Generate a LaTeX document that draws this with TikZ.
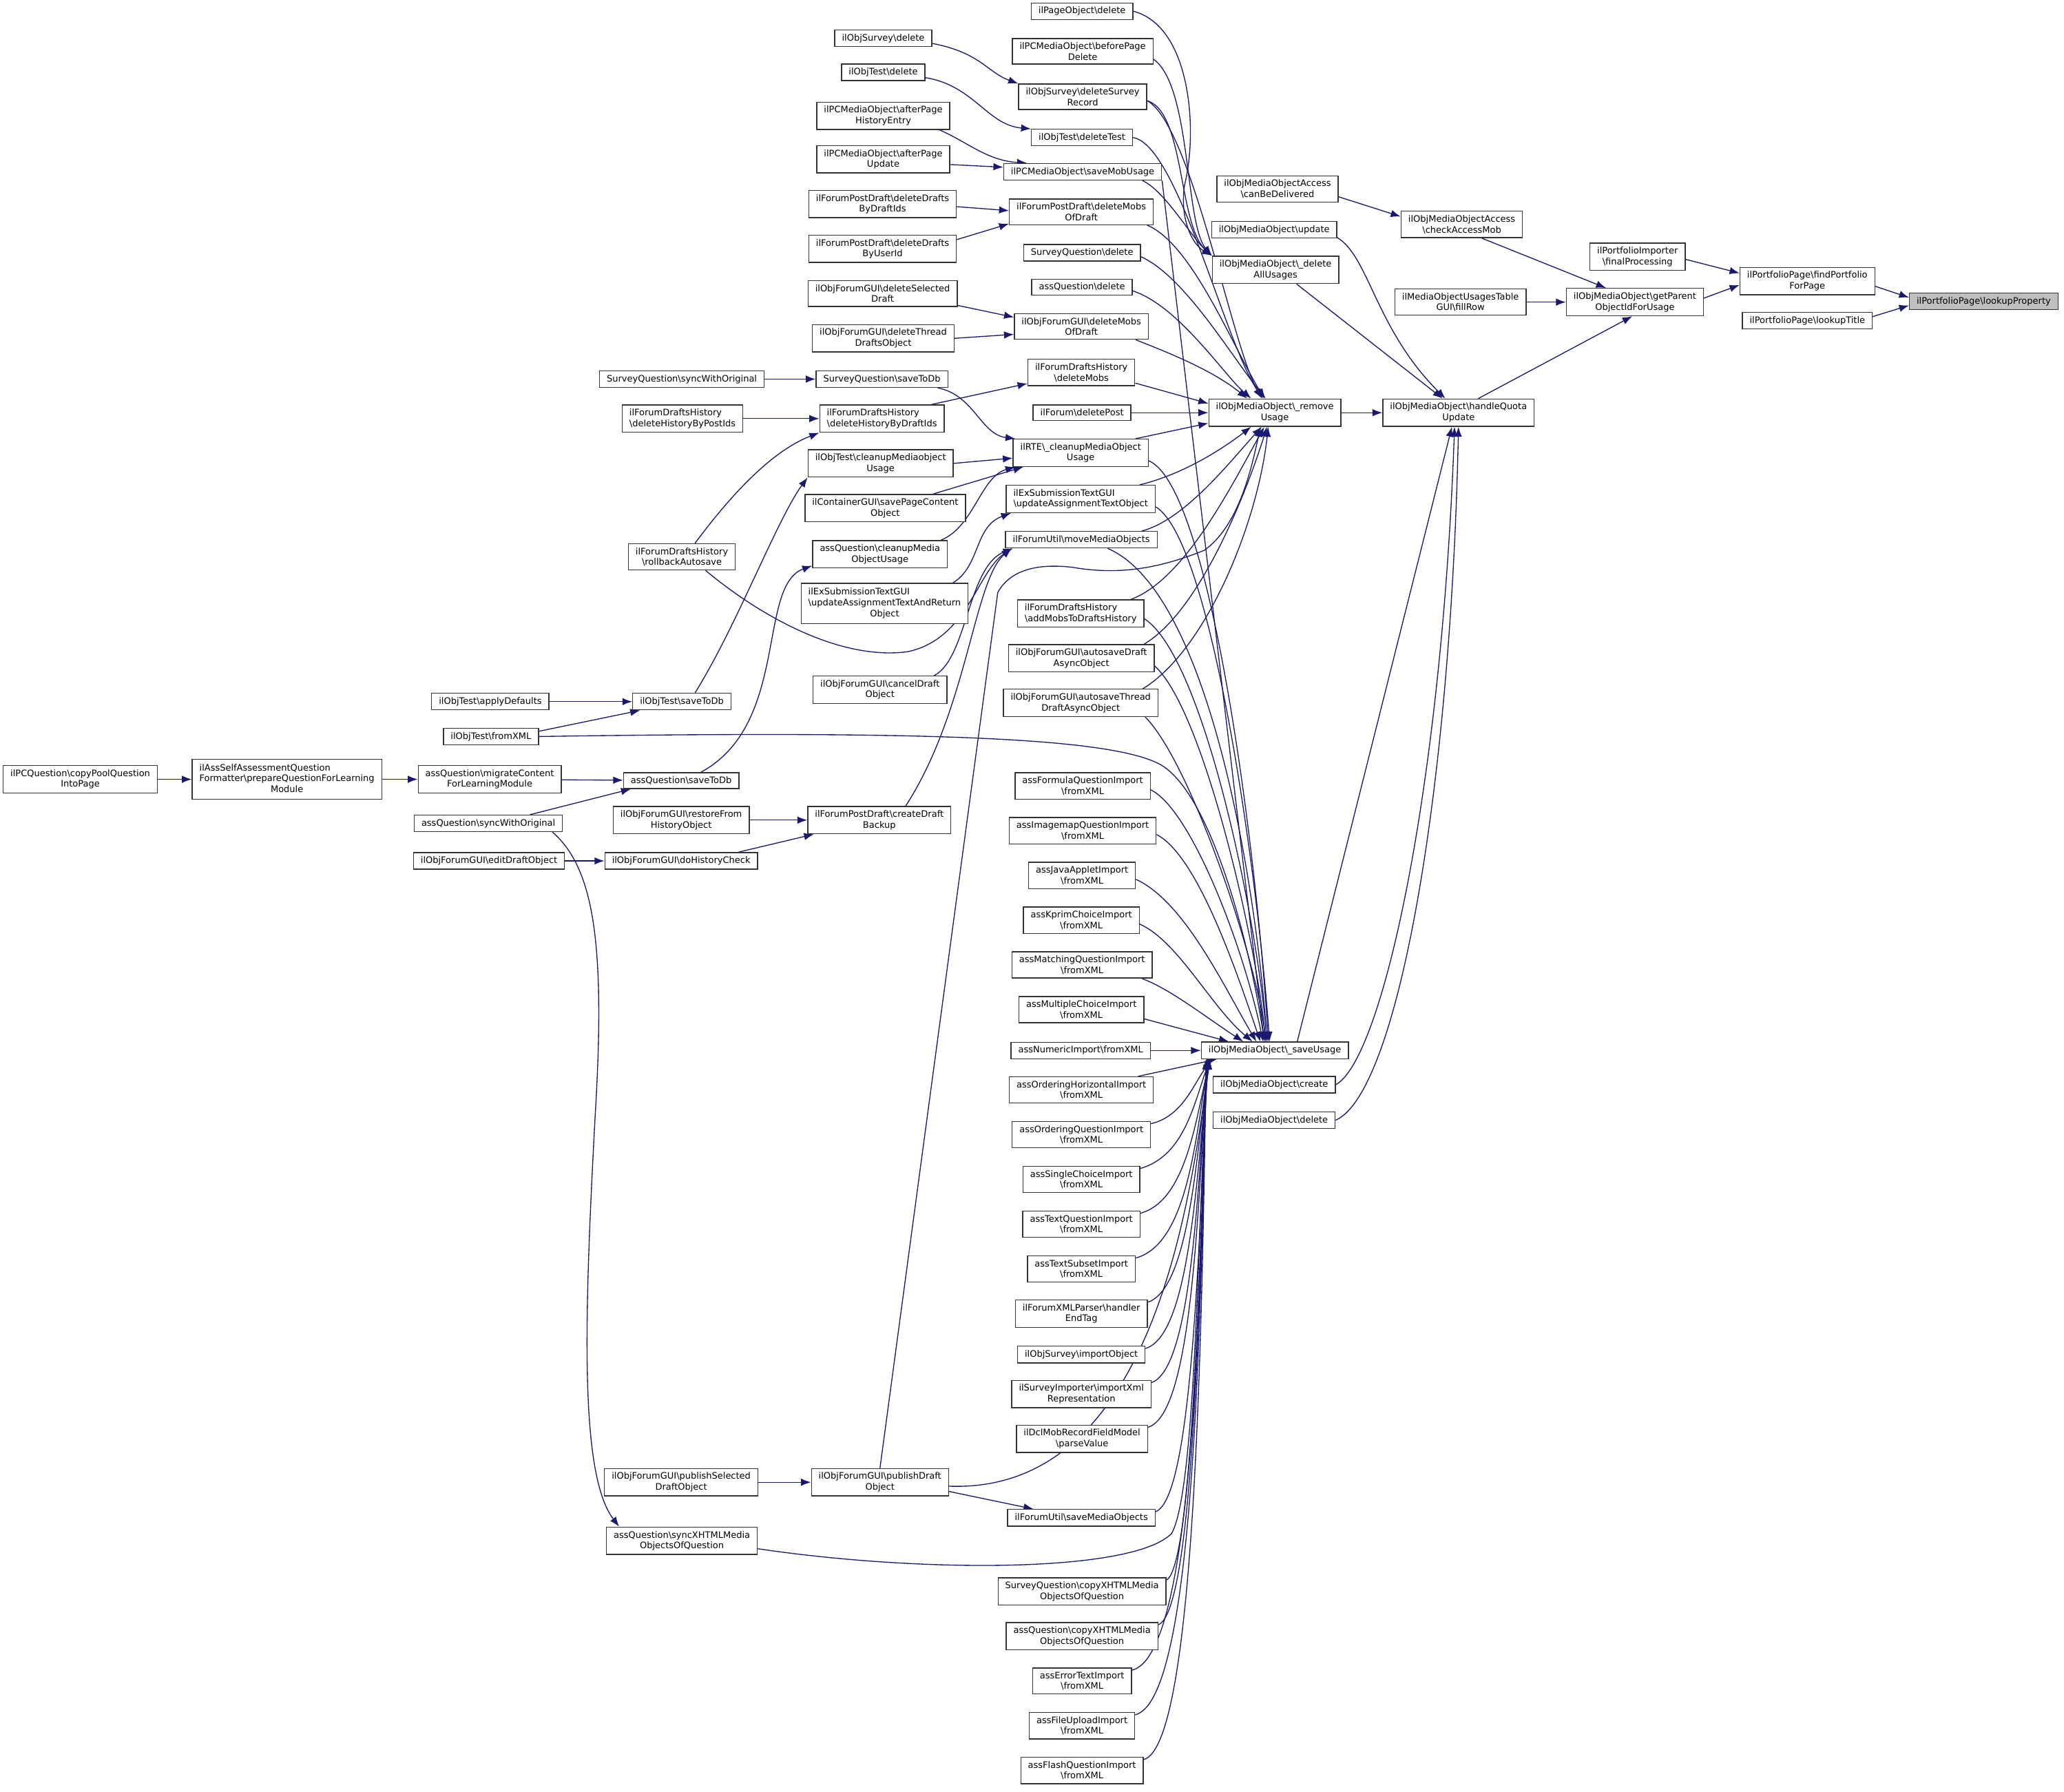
\documentclass[tikz,border=0pt]{standalone}
\usepackage{fontspec}
\setmainfont{DejaVu Sans}
\usetikzlibrary{arrows.meta,backgrounds}
\definecolor{edgeblue}{RGB}{25,25,112}
\definecolor{rootgrey}{RGB}{191,191,191}
\newcommand{\bsl}{\textbackslash}

\begin{document}
\begin{tikzpicture}[x=1pt, y=-1pt, >={Latex[length=7.5pt,width=5.6pt]},
  font=\fontsize{6.8}{8.2}\selectfont,
  box/.style={draw=black!80, line width=0.7pt, fill=white, inner xsep=5.5pt, inner ysep=3pt},
  fn/.style={box, align=center},
  fnl/.style={box, align=left},
  rootfn/.style={fn, fill=rootgrey},
  calls/.style={->, draw=edgeblue, line width=0.7pt}]

\useasboundingbox (0,0) rectangle (1568,1361);

% --- root and right part ---
\node[rootfn] (lookup) at (1507,229) {ilPortfolioPage\bsl lookupProperty};
\node[fn] (findpf) at (1373,213.5) {ilPortfolioPage\bsl findPortfolio\\ForPage};
\node[fn] (lookuptitle) at (1373,243.5) {ilPortfolioPage\bsl lookupTitle};
\node[fn] (finalproc) at (1244,195) {ilPortfolioImporter\\\bsl finalProcessing};
\node[fn] (getparent) at (1242,229.5) {ilObjMediaObject\bsl getParent\\ObjectIdForUsage};
\node[fn] (fillrow) at (1109.5,229.5) {ilMediaObjectUsagesTable\\GUI\bsl fillRow};
\node[fn] (checkmob) at (1110.5,170.5) {ilObjMediaObjectAccess\\\bsl checkAccessMob};
\node[fn] (candeliver) at (970.5,143.5) {ilObjMediaObjectAccess\\\bsl canBeDelivered};
\node[fn] (mobupdate) at (968,174.5) {ilObjMediaObject\bsl update};
\node[fn] (delall) at (969,205) {ilObjMediaObject\bsl\_delete\\AllUsages};
\node[fn] (quota) at (1108,313.5) {ilObjMediaObject\bsl handleQuota\\Update};
\node[fn] (remove) at (968.5,313.5) {ilObjMediaObject\bsl\_remove\\Usage};
\node[fn] (save) at (968.5,798) {ilObjMediaObject\bsl\_saveUsage};
\node[fn] (mobcreate) at (968,824) {ilObjMediaObject\bsl create};
\node[fn] (mobdelete) at (968,851) {ilObjMediaObject\bsl delete};

% --- middle column ---
\node[fn] (pgdelete) at (822,8.5) {ilPageObject\bsl delete};
\node[fn] (beforepg) at (822.5,39) {ilPCMediaObject\bsl beforePage\\Delete};
\node[fn] (surveyrec) at (822.5,73.5) {ilObjSurvey\bsl deleteSurvey\\Record};
\node[fn] (deletetest) at (822,104.5) {ilObjTest\bsl deleteTest};
\node[fn] (savemob) at (822.5,130.5) {ilPCMediaObject\bsl saveMobUsage};
\node[fn] (pddelmobs) at (821.5,161) {ilForumPostDraft\bsl deleteMobs\\OfDraft};
\node[fn] (sqdelete) at (822,192) {SurveyQuestion\bsl delete};
\node[fn] (aqdelete) at (822,218) {assQuestion\bsl delete};
\node[fn] (fgdelmobs) at (821.5,248) {ilObjForumGUI\bsl deleteMobs\\OfDraft};
\node[fn] (dhdelmobs) at (821.5,283) {ilForumDraftsHistory\\\bsl deleteMobs};
\node[fn] (deletepost) at (822,313.5) {ilForum\bsl deletePost};
\node[fn] (rtecleanup) at (821,344) {ilRTE\bsl\_cleanupMediaObject\\Usage};
\node[fnl] (exupdate) at (821,379) {ilExSubmissionTextGUI\\\bsl updateAssignmentTextObject};
\node[fn] (movemedia) at (821.5,410) {ilForumUtil\bsl moveMediaObjects};
\node[fnl] (addmobs) at (821,466) {ilForumDraftsHistory\\\bsl addMobsToDraftsHistory};
\node[fn] (autodraft) at (821.5,500) {ilObjForumGUI\bsl autosaveDraft\\AsyncObject};
\node[fn] (autothread) at (821,534) {ilObjForumGUI\bsl autosaveThread\\DraftAsyncObject};
\node[fn] (formula) at (822.5,597) {assFormulaQuestionImport\\\bsl fromXML};
\node[fn] (imagemap) at (822.5,631) {assImagemapQuestionImport\\\bsl fromXML};
\node[fn] (javaapplet) at (822,665) {assJavaAppletImport\\\bsl fromXML};
\node[fn] (kprim) at (821.5,699) {assKprimChoiceImport\\\bsl fromXML};
\node[fn] (matching) at (822,733) {assMatchingQuestionImport\\\bsl fromXML};
\node[fn] (multichoice) at (821.5,767) {assMultipleChoiceImport\\\bsl fromXML};
\node[fn] (numeric) at (821,798) {assNumericImport\bsl fromXML};
\node[fn] (orderhoriz) at (821.5,828) {assOrderingHorizontalImport\\\bsl fromXML};
\node[fn] (orderq) at (821.5,862) {assOrderingQuestionImport\\\bsl fromXML};
\node[fn] (singlechoice) at (821.5,896) {assSingleChoiceImport\\\bsl fromXML};
\node[fn] (textq) at (821.5,930) {assTextQuestionImport\\\bsl fromXML};
\node[fn] (textsubset) at (821.5,964) {assTextSubsetImport\\\bsl fromXML};
\node[fn] (handlerend) at (821.5,998) {ilForumXMLParser\bsl handler\\EndTag};
\node[fn] (importobj) at (821.5,1029) {ilObjSurvey\bsl importObject};
\node[fn] (importxml) at (821.5,1059) {ilSurveyImporter\bsl importXml\\Representation};
\node[fn] (parseval) at (822,1093) {ilDclMobRecordFieldModel\\\bsl parseValue};
\node[fn] (savemedia) at (821.5,1153) {ilForumUtil\bsl saveMediaObjects};
\node[fn] (sqcopy) at (822,1209) {SurveyQuestion\bsl copyXHTMLMedia\\ObjectsOfQuestion};
\node[fn] (aqcopy) at (822,1243) {assQuestion\bsl copyXHTMLMedia\\ObjectsOfQuestion};
\node[fn] (errortext) at (822,1277) {assErrorTextImport\\\bsl fromXML};
\node[fn] (fileupload) at (822,1311) {assFileUploadImport\\\bsl fromXML};
\node[fn] (flash) at (822,1345) {assFlashQuestionImport\\\bsl fromXML};

% --- second column ---
\node[fn] (svydelete) at (671,29) {ilObjSurvey\bsl delete};
\node[fn] (tstdelete) at (671,55) {ilObjTest\bsl delete};
\node[fn] (afterhist) at (671,88) {ilPCMediaObject\bsl afterPage\\HistoryEntry};
\node[fn] (afterupdate) at (671,121) {ilPCMediaObject\bsl afterPage\\Update};
\node[fn] (bydraftids) at (670.5,155) {ilForumPostDraft\bsl deleteDrafts\\ByDraftIds};
\node[fn] (byuserid) at (670.5,189) {ilForumPostDraft\bsl deleteDrafts\\ByUserId};
\node[fn] (delselected) at (670.5,223) {ilObjForumGUI\bsl deleteSelected\\Draft};
\node[fn] (delthread) at (671,257) {ilObjForumGUI\bsl deleteThread\\DraftsObject};
\node[fn] (sqsavetodb) at (670,288) {SurveyQuestion\bsl saveToDb};
\node[fnl] (histdraft) at (670,318) {ilForumDraftsHistory\\\bsl deleteHistoryByDraftIds};
\node[fn] (tstcleanup) at (669,352) {ilObjTest\bsl cleanupMediaobject\\Usage};
\node[fn] (savepage) at (672.5,386) {ilContainerGUI\bsl savePageContent\\Object};
\node[fn] (aqcleanup) at (668.5,421) {assQuestion\bsl cleanupMedia\\ObjectUsage};
\node[box] (exreturn) at (672,458.5) {\begin{tabular}{@{}l@{}}ilExSubmissionTextGUI\\\bsl updateAssignmentTextAndReturn\\\multicolumn{1}{@{}c@{}}{Object}\end{tabular}};
\node[fn] (canceldraft) at (668.5,524) {ilObjForumGUI\bsl cancelDraft\\Object};
\node[fn] (createbackup) at (668,623) {ilForumPostDraft\bsl createDraft\\Backup};
\node[fn] (publishdraft) at (668.5,1126) {ilObjForumGUI\bsl publishDraft\\Object};

% --- third column ---
\node[fn] (sqsync) at (518,288) {SurveyQuestion\bsl syncWithOriginal};
\node[fnl] (histpost) at (518.5,318) {ilForumDraftsHistory\\\bsl deleteHistoryByPostIds};
\node[fn] (rollback) at (518,423) {ilForumDraftsHistory\\\bsl rollbackAutosave};
\node[fn] (tstsavetodb) at (518,533) {ilObjTest\bsl saveToDb};
\node[fn] (aqsavetodb) at (517.5,593) {assQuestion\bsl saveToDb};
\node[fn] (restore) at (517.5,623) {ilObjForumGUI\bsl restoreFrom\\HistoryObject};
\node[fn] (dohistory) at (517.5,654) {ilObjForumGUI\bsl doHistoryCheck};
\node[fn] (pubselected) at (517.5,1126) {ilObjForumGUI\bsl publishSelected\\DraftObject};
\node[fn] (syncxhtml) at (518,1170.5) {assQuestion\bsl syncXHTMLMedia\\ObjectsOfQuestion};

% --- left part ---
\node[fn] (applydef) at (372.5,533) {ilObjTest\bsl applyDefaults};
\node[fn] (tstfromxml) at (373,559.5) {ilObjTest\bsl fromXML};
\node[fn] (migrate) at (372,592) {assQuestion\bsl migrateContent\\ForLearningModule};
\node[fn] (aqsync) at (371,625.5) {assQuestion\bsl syncWithOriginal};
\node[fn] (editdraft) at (371.5,654) {ilObjForumGUI\bsl editDraftObject};
\node[box] (prepare) at (218,592) {\begin{tabular}{@{}l@{}}ilAssSelfAssessmentQuestion\\Formatter\bsl prepareQuestionForLearning\\\multicolumn{1}{@{}c@{}}{Module}\end{tabular}};
\node[fn] (copypool) at (61,592) {ilPCQuestion\bsl copyPoolQuestion\\IntoPage};

\begin{scope}[on background layer]
% right part
\draw[calls] ([yshift=-4pt]findpf.east) -- ([yshift=3pt]lookup.west);
\draw[calls] ([yshift=3pt]lookuptitle.east) -- ([yshift=-3pt]lookup.west);
\draw[calls] ([yshift=-2pt]finalproc.east) -- ([yshift=6pt]findpf.west);
\draw[calls] ([yshift=3pt]getparent.east) -- ([yshift=-3pt]findpf.west);
\draw[calls] (fillrow) -- (getparent);
\draw[calls] ([xshift=15pt]checkmob.south) -- ([xshift=-22pt]getparent.north);
\draw[calls] ([xshift=15pt]quota.north) -- ([xshift=-2pt]getparent.south);
\draw[calls] ([yshift=-6pt]candeliver.east) -- ([yshift=6pt]checkmob.west);
\draw[calls] ([yshift=-6pt]mobupdate.east) .. controls (1040,195) and (1045,250) .. ([xshift=-10pt]quota.north);
\draw[calls] ([xshift=16pt]delall.south) -- ([xshift=-12pt]quota.north);
\draw[calls] (remove) -- (quota);
\draw[calls] ([xshift=17pt]save.north) -- ([xshift=-5pt]quota.south);
\draw[calls] (mobcreate.east) .. controls (1050,805) and (1095,600) .. ([xshift=-3pt]quota.south);
\draw[calls] (mobdelete.east) .. controls (1062,830) and (1102,600) .. (quota.south);

% into _deleteAllUsages
\draw[calls] (pgdelete.east) .. controls (905,20) and (910,100) .. (900,140) .. controls (896,165) and (905,185) .. (delall.north west);
\draw[calls] ([yshift=-6pt]beforepg.east) .. controls (905,65) and (900,170) .. (delall.north west);
\draw[calls] ([yshift=-3pt]surveyrec.east) .. controls (900,85) and (895,170) .. (delall.north west);
\draw[calls] ([xshift=-15pt]savemob.south east) .. controls (885,145) and (905,180) .. (delall.north west);

% into _removeUsage
\draw[calls] ([yshift=-3pt]surveyrec.east) .. controls (905,95) and (935,260) .. ([xshift=-10pt]remove.north);
\draw[calls] (deletetest.east) .. controls (895,110) and (930,260) .. ([xshift=-9pt]remove.north);
\draw[calls] ([xshift=-5pt]pddelmobs.south east) .. controls (905,185) and (935,260) .. ([xshift=-8pt]remove.north);
\draw[calls] ([yshift=-3pt]sqdelete.east) .. controls (900,210) and (935,270) .. ([xshift=-7pt]remove.north);
\draw[calls] ([yshift=-3pt]aqdelete.east) .. controls (895,232) and (930,285) .. ([xshift=-18pt]remove.north);
\draw[calls] ([xshift=-10pt]fgdelmobs.south east) .. controls (880,265) and (920,280) .. ([xshift=-21pt]remove.north);
\draw[calls] ([yshift=-8pt]dhdelmobs.east) -- ([yshift=7pt]remove.west);
\draw[calls] (deletepost) -- (remove);
\draw[calls] ([xshift=-10pt]rtecleanup.north east) -- ([yshift=-8pt]remove.west);
\draw[calls] ([xshift=-12pt]exupdate.north east) .. controls (900,360) and (930,340) .. ([xshift=-18pt]remove.south);
\draw[calls] ([xshift=-12pt]movemedia.north east) .. controls (900,395) and (935,350) .. ([xshift=-10pt]remove.south);
\draw[calls] (publishdraft.north) -- (758,450) .. controls (768,432) and (790,428) .. (815,431) .. controls (850,437) and (880,432) .. (915,418) .. controls (940,400) and (950,360) .. ([xshift=-11pt]remove.south);
\draw[calls] ([xshift=-10pt]addmobs.north east) .. controls (900,440) and (935,370) .. ([xshift=-8pt]remove.south);
\draw[calls] ([xshift=-8pt]autodraft.north east) .. controls (910,465) and (945,380) .. ([xshift=-6pt]remove.south);
\draw[calls] ([xshift=-12pt]autothread.north east) .. controls (915,495) and (955,400) .. ([xshift=-5pt]remove.south);

% into _saveUsage from above
\draw[calls] (savemob.south east) -- ([xshift=-8pt]save.north);
\draw[calls] ([yshift=-6pt]rtecleanup.east) .. controls (920,370) and (955,650) .. ([xshift=-5pt]save.north);
\draw[calls] ([yshift=-6pt]exupdate.east) .. controls (920,410) and (955,660) .. ([xshift=-4pt]save.north);
\draw[calls] ([xshift=20pt]movemedia.south) .. controls (920,450) and (955,680) .. ([xshift=-6pt]save.north);
\draw[calls] ([yshift=-4pt]addmobs.east) .. controls (915,500) and (955,700) .. ([xshift=-6pt]save.north);
\draw[calls] ([yshift=-6pt]autodraft.east) .. controls (915,540) and (955,720) .. ([xshift=-7pt]save.north);
\draw[calls] ([xshift=-10pt]autothread.south east) .. controls (905,580) and (955,730) .. ([xshift=-7pt]save.north);
\draw[calls] (tstfromxml.east) .. controls (700,555) and (840,560) .. (880,580) .. controls (920,600) and (950,720) .. ([xshift=-8pt]save.north);
\draw[calls] ([yshift=-3pt]formula.east) .. controls (905,615) and (945,720) .. ([xshift=-9pt]save.north);
\draw[calls] ([yshift=-3pt]imagemap.east) .. controls (910,650) and (940,740) .. ([xshift=-11pt]save.north);
\draw[calls] ([yshift=-3pt]javaapplet.east) .. controls (900,685) and (930,750) .. ([xshift=-14pt]save.north);
\draw[calls] ([yshift=-3pt]kprim.east) .. controls (895,715) and (920,765) .. ([xshift=-17pt]save.north);
\draw[calls] ([xshift=-8pt]matching.south east) .. controls (890,752) and (915,772) .. ([xshift=-24pt]save.north);
\draw[calls] ([yshift=-7pt]multichoice.east) -- ([xshift=-35pt]save.north);
\draw[calls] (numeric) -- (save);
\draw[calls] ([xshift=-12pt]orderhoriz.north east) -- ([xshift=12pt]save.south west);

% into _saveUsage from below
\draw[calls] ([yshift=-2pt]orderq.north east) .. controls (898,848) and (906,825) .. ([xshift=8pt]save.south west);
\draw[calls] ([yshift=-2pt]singlechoice.north east) .. controls (900,878) and (907,838) .. ([xshift=7pt]save.south west);
\draw[calls] ([yshift=-2pt]textq.north east) .. controls (901,912) and (908,852) .. ([xshift=7pt]save.south west);
\draw[calls] ([yshift=-2pt]textsubset.north east) .. controls (902,945) and (908,866) .. ([xshift=6pt]save.south west);
\draw[calls] ([yshift=-2pt]handlerend.north east) .. controls (903,979) and (909,879) .. ([xshift=6pt]save.south west);
\draw[calls] ([yshift=-2pt]importobj.north east) .. controls (904,1014) and (909,893) .. ([xshift=6pt]save.south west);
\draw[calls] ([yshift=-2pt]importxml.north east) .. controls (905,1040) and (910,904) .. ([xshift=5pt]save.south west);
\draw[calls] ([yshift=-2pt]parseval.north east) .. controls (906,1074) and (910,917) .. ([xshift=5pt]save.south west);
\draw[calls] ([yshift=-3pt]publishdraft.east) .. controls (880,1135) and (905,900) .. ([xshift=7pt]save.south west);
\draw[calls] ([yshift=-2pt]savemedia.north east) .. controls (906,1138) and (911,941) .. ([xshift=5pt]save.south west);
\draw[calls] ([yshift=-6pt]syncxhtml.east) .. controls (700,1195) and (860,1195) .. (890,1165) .. controls (910,1130) and (910,900) .. ([xshift=6pt]save.south west);
\draw[calls] ([yshift=-2pt]sqcopy.north east) .. controls (906,1190) and (911,963) .. ([xshift=5pt]save.south west);
\draw[calls] ([yshift=-2pt]aqcopy.north east) .. controls (907,1224) and (912,977) .. ([xshift=4pt]save.south west);
\draw[calls] ([yshift=-2pt]errortext.north east) .. controls (907,1258) and (912,990) .. ([xshift=4pt]save.south west);
\draw[calls] ([yshift=-2pt]fileupload.north east) .. controls (908,1292) and (912,1004) .. ([xshift=4pt]save.south west);
\draw[calls] ([yshift=-2pt]flash.north east) .. controls (908,1326) and (913,1018) .. ([xshift=4pt]save.south west);

% second column into middle column
\draw[calls] ([yshift=-4pt]svydelete.east) .. controls (745,40) and (750,55) .. (surveyrec.north west);
\draw[calls] ([yshift=-4pt]tstdelete.east) .. controls (740,65) and (750,95) .. (deletetest.north west);
\draw[calls] ([xshift=-8pt]afterhist.south east) .. controls (735,108) and (750,122) .. ([xshift=18pt]savemob.north west);
\draw[calls] ([yshift=-4pt]afterupdate.east) -- ([yshift=3.5pt]savemob.west);
\draw[calls] ([yshift=-2pt]bydraftids.east) -- ([yshift=1pt]pddelmobs.west);
\draw[calls] ([yshift=7pt]byuserid.east) -- ([yshift=-9pt]pddelmobs.west);
\draw[calls] ([yshift=-9pt]delselected.east) -- ([yshift=7pt]fgdelmobs.west);
\draw[calls] (delthread.east) -- ([yshift=-6pt]fgdelmobs.west);
\draw[calls] ([xshift=-10pt]histdraft.north east) -- ([yshift=2pt]dhdelmobs.south west);
\draw[calls] ([xshift=-8pt]sqsavetodb.south east) .. controls (740,300) and (745,330) .. ([xshift=2pt]rtecleanup.north west);
\draw[calls] (tstcleanup.east) -- ([yshift=-4pt]rtecleanup.west);
\draw[calls] ([xshift=-25pt]savepage.north east) -- ([xshift=8pt]rtecleanup.south west);
\draw[calls] ([xshift=-5pt]aqcleanup.north east) .. controls (740,400) and (745,362) .. ([xshift=2pt]rtecleanup.south west);
\draw[calls] ([xshift=-12pt]exreturn.north east) .. controls (745,430) and (740,400) .. ([xshift=4pt]exupdate.south west);
\draw[calls] ([xshift=-10pt]canceldraft.north east) .. controls (735,500) and (735,430) .. ([xshift=6pt]movemedia.south west);
\draw[calls] ([xshift=20pt]createbackup.north) .. controls (735,540) and (740,440) .. ([xshift=5pt]movemedia.south west);
\draw[calls] ([yshift=-7pt]publishdraft.east) -- ([xshift=20pt]savemedia.north west);

% third column and left part
\draw[calls] (sqsync) -- (sqsavetodb);
\draw[calls] (histpost) -- (histdraft);
\draw[calls] ([xshift=10pt]rollback.north) .. controls (545,390) and (580,345) .. (histdraft.south west);
\draw[calls] ([xshift=18pt]rollback.south) .. controls (580,470) and (640,502) .. (690,495) .. controls (735,485) and (742,435) .. ([xshift=5pt]movemedia.south west);
\draw[calls] ([xshift=10pt]tstsavetodb.north) .. controls (560,475) and (590,395) .. (tstcleanup.south west);
\draw[calls] ([xshift=15pt]aqsavetodb.north) .. controls (600,550) and (575,445) .. ([yshift=2pt]aqcleanup.south west);
\draw[calls] (pubselected) -- (publishdraft);
\draw[calls] (restore) -- (createbackup);
\draw[calls] ([xshift=-15pt]dohistory.north east) -- ([xshift=5pt]createbackup.south west);
\draw[calls] (applydef) -- (tstsavetodb);
\draw[calls] ([yshift=4pt]tstfromxml.east) -- ([xshift=6pt]tstsavetodb.south west);
\draw[calls] (migrate) -- (aqsavetodb);
\draw[calls] ([xshift=-25pt]aqsync.north east) -- ([xshift=6pt]aqsavetodb.south west);
\draw[calls] (editdraft) -- (dohistory);
\draw[calls] ([xshift=-8pt]aqsync.south east) .. controls (452,660) and (460,720) .. (452,850) .. controls (444,1000) and (440,1120) .. ([xshift=10pt]syncxhtml.north west);
\draw[calls] (prepare) -- (migrate);
\draw[calls] (copypool) -- (prepare);
\end{scope}

\end{tikzpicture}
\end{document}
